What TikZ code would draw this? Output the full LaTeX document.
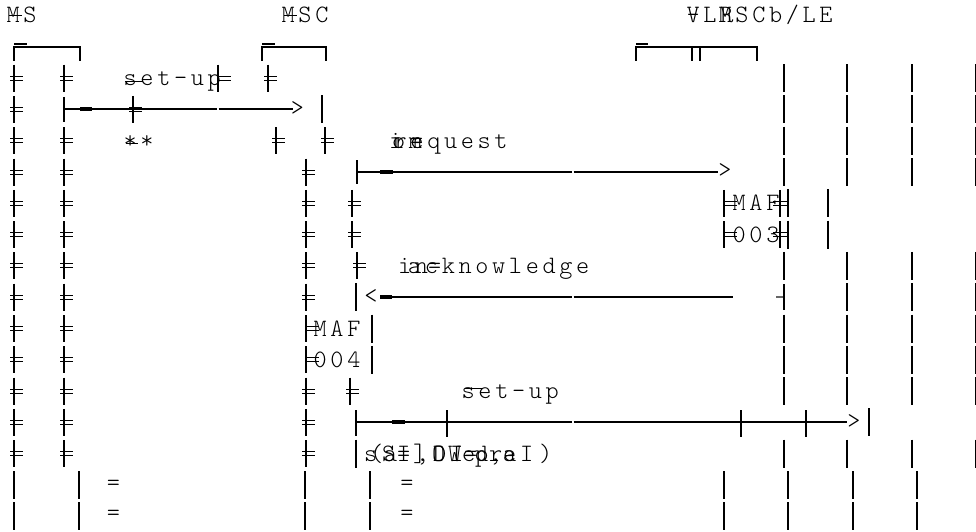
\documentclass[tikz,border=0pt]{standalone}
\usepackage{fontspec}
\newfontfamily\mt{lmmonolt10-regular.otf}[LetterSpace=14.7]
\begin{document}
\begin{tikzpicture}[x=1pt,y=-1pt,
  txt/.style={font=\mt\fontsize{25pt}{25pt}\selectfont, inner sep=0pt, anchor=base west},
  glyph/.style={font=\mt\fontsize{25pt}{25pt}\selectfont, inner sep=0pt, anchor=center},
  lbar/.style={line width=1.1pt},
  hbar/.style={line width=0.9pt},
  msg/.style={line width=2pt},
  brk/.style={line width=2.2pt},
  thk/.style={line width=2.6pt},
  thickdash/.style={line width=4pt},
  dbl/.pic={\draw[lbar] (0,-13.5) -- (0,13.5); \draw[hbar] (-4,-2) -- (9,-2) (-4,2) -- (9,2);},
  rdbl/.pic={\draw[lbar] (0,-13.5) -- (0,13.5); \draw[hbar] (0,-2) -- (13,-2) (0,2) -- (13,2);},
  cdbl/.pic={\draw[lbar] (0,-13.5) -- (0,13.5); \draw[hbar] (-7,-2) -- (7,-2) (-7,2) -- (7,2);},
  vb/.pic={\draw[lbar] (0,-14) -- (0,14);},
]
\useasboundingbox[fill=white] (0,0) rectangle (976,532);

% ---- headers
\node[txt] (ms) at (6.5,23) {MS};
\draw[hbar] (9,15) -- (22,15);
\node[txt] (msc) at (281.5,23) {MSC};
\draw[hbar] (284,15) -- (297,15);
\node[txt] (vlr) at (686.5,23) {VLR};
\node[txt] (vlrx) at (686.5,23) {-};
\node[txt] (mscb) at (718.5,23) {MSCb/LE};

% ---- brackets
\draw[brk] (14,61) -- (14,47) -- (80,47) -- (80,61);
\draw[line width=2pt] (14,44.5) -- (27,44.5);
\draw[brk] (262,61) -- (262,47) -- (326,47) -- (326,61);
\draw[line width=2pt] (262,44.5) -- (275,44.5);
\draw[brk] (636,61) -- (636,47) -- (757,47) -- (757,61);
\draw[brk] (692,47) -- (692,61);
\draw[brk] (700,47) -- (700,61);
\draw[line width=2pt] (636,44.5) -- (648,44.5);

% ---- left lifelines
\foreach \yy in {78.1,109.4,140.7,172.0,203.3,234.6,265.9,297.2,328.5,359.8,391.1,422.4,453.7}
  \pic at (14,\yy) {dbl};
\foreach \yy in {78.1,140.7,172.0,203.3,234.6,265.9,297.2,328.5,359.8,391.1,422.4,453.7}
  \pic at (64,\yy) {dbl};
\foreach \yy in {172.0,203.3,234.6,265.9,297.2,391.1,422.4,453.7}
  \pic at (306,\yy) {dbl};
\foreach \yy in {328.5,359.8}
  \pic at (306,\yy) {rdbl};
\pic at (218,78.1) {rdbl};
\pic at (268,78.1) {dbl};
\pic at (133,109.4) {dbl};
\pic at (322,109.4) {vb};
\pic at (276,140.7) {dbl};
\pic at (325,140.7) {dbl};
\pic at (352,203.3) {dbl};
\pic at (352,234.6) {dbl};
\pic at (357,265.9) {dbl};
\pic at (350,391.1) {dbl};
\pic at (356,297.2) {vb};
\pic at (356,453.7) {vb};
\pic at (372,328.5) {vb};
\pic at (372,359.8) {vb};

% ---- right lifelines
\foreach \yy in {78.1,109.4,140.7,172.0,265.9,328.5,359.8,391.1,453.7}
  \foreach \xx in {784,847,912,975.5}
    \pic at (\xx,\yy) {vb};
\foreach \xx in {847,912,975.5}
  \pic at (\xx,297.2) {vb};
\foreach \yy in {203.3,234.6} {
  \pic at (724,\yy) {rdbl};
  \pic at (780,\yy) {cdbl};
  \pic at (788,\yy) {vb};
  \pic at (828,\yy) {vb};
}
\foreach \xx in {14,79,305,370,724,788,853,917}
  \foreach \yy in {485.0,516.3}
    \pic at (\xx,\yy) {vb};

% ---- texts
\node[txt] (setup1) at (123.5,85.6) {set-up};
\draw[hbar] (125,81) -- (143,81);
\node[txt] (stars) at (123.5,148.2) {**};
\draw[hbar] (126,143) -- (138,143);
\node[txt] (req) at (393.5,148.2) {request};
\node[txt] (reqa) at (392,148.2) {om};
\node[txt] (reqb) at (389,148.2) {i};
\node[txt] (reqc) at (410,148.2) {=};
\node[txt] (maf1) at (732.5,210.8) {MAF};
\node[txt] (n003) at (732.5,242.1) {003};
\node[txt] (ack) at (408,273.4) {acknowledge};
\node[txt] (acka) at (398,273.4) {in};
\node[txt] (ackb) at (428,273.4) {=};
\node[txt] (maf2) at (313.5,336.0) {MAF};
\node[txt] (n004) at (313.5,367.3) {004};
\node[txt] (setup2) at (461.5,398.6) {set-up};
\draw[hbar] (465,388) -- (483,388);
\foreach \xx/\ch [count=\i] in {364/s,370/(,382/S,384/a,397/I,397/=,413/],416/{,},432/O,433/D,448/W,450/I,462/e,464/=,475/d,475/p,489/r,489/{,},503/e,503/a,520/I,539/)}
  \node[txt] (sil\i) at (\xx,461.2) {\ch};
\node[glyph] (eqa) at (113.5,485.8) {=};
\node[glyph] (eqb) at (113.5,515.8) {=};
\node[glyph] (eqc) at (407,485.8) {=};
\node[glyph] (eqd) at (407,515.8) {=};

% ---- message 1 (row 4)
\coordinate (m1s) at (64,109.4);
\coordinate (m1g) at (218,109.4);
\coordinate (m1e) at (293,109.4);
\node[glyph] (m1h) at (297.5,108.5) {>};
\draw[thk] (64,97) -- (64,122);
\draw[msg] (m1s) -- ([xshift=-0.6pt]m1g);
\draw[msg] ([xshift=0.6pt]m1g) -- (m1e);
\draw[thickdash] (80,109.4) -- (92,109.4);

% ---- message 2 (row 6)
\coordinate (m2s) at (357,172.0);
\coordinate (m2g) at (573,172.0);
\coordinate (m2e) at (718,172.0);
\node[glyph] (m2h) at (725,171) {>};
\draw[thk] (357,160) -- (357,184);
\draw[msg] (m2s) -- ([xshift=-0.6pt]m2g);
\draw[msg] ([xshift=0.6pt]m2g) -- (m2e);
\draw[thickdash] (380,172.0) -- (393,172.0);

% ---- message 3 (row 10)
\coordinate (m3s) at (380,297.2);
\coordinate (m3g) at (573,297.2);
\coordinate (m3e) at (733,297.2);
\node[glyph] (m3h) at (371,297) {<};
\draw[msg] (m3s) -- ([xshift=-0.6pt]m3g);
\draw[msg] ([xshift=0.6pt]m3g) -- (m3e);
\draw[thickdash] (380,297.2) -- (392,297.2);
\draw[thk] (784,284) -- (784,310);
\draw[line width=2pt, black!60] (776,297.2) -- (783,297.2);

% ---- message 4 (row 14)
\coordinate (m4s) at (356,422.4);
\coordinate (m4g) at (573,422.4);
\coordinate (m4e) at (847,422.4);
\node[glyph] (m4h) at (854,422) {>};
\draw[thk] (356,410) -- (356,436);
\draw[msg] (m4s) -- ([xshift=-0.6pt]m4g);
\draw[msg] ([xshift=0.6pt]m4g) -- (m4e);
\draw[thickdash] (392,422.4) -- (405,422.4);
\draw[lbar] (447,410) -- (447,437);
\draw[line width=2.2pt] (741,410) -- (741,437);
\draw[line width=2.2pt] (806,410) -- (806,437);
\pic at (869,422.4) {vb};
\end{tikzpicture}
\end{document}
